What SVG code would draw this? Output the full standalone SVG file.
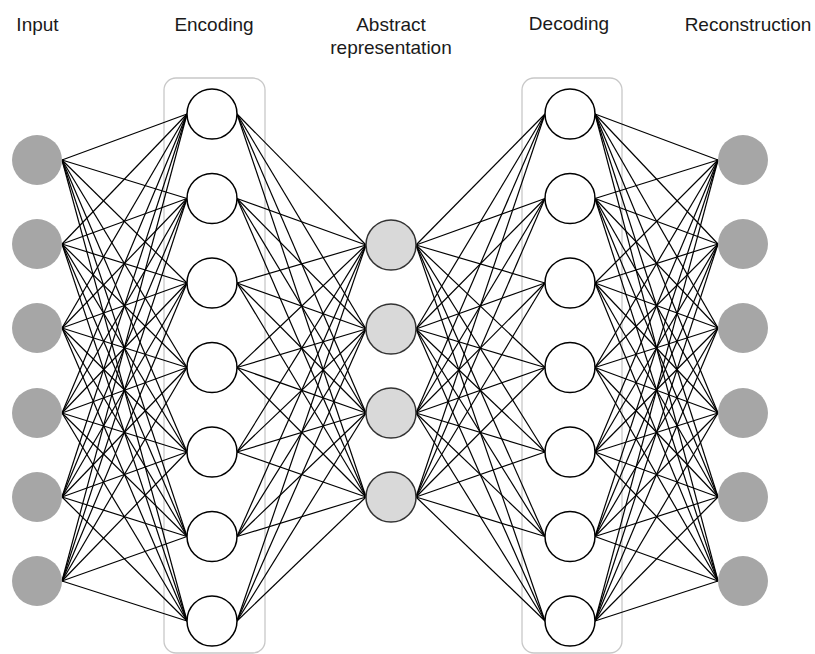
<svg xmlns="http://www.w3.org/2000/svg" width="815" height="654" viewBox="0 0 815 654">
<style>
.lbl{font-family:"Liberation Sans",Arial,sans-serif;font-size:19px;fill:#1a1a1a;text-anchor:middle}
.box{fill:none;stroke:#c8c8c8;stroke-width:1.3}
.e{stroke:#000;stroke-width:1.2}
.in{fill:#a6a6a6;stroke:none}
.hid{fill:#fff;stroke:#000;stroke-width:1.5}
.ab{fill:#d9d9d9;stroke:#333;stroke-width:1.5}
</style>
<rect width="815" height="654" fill="#fff"/>
<g id="labels">
<text class="lbl" x="37.5" y="31">Input</text>
<text class="lbl" x="214" y="31">Encoding</text>
<text class="lbl" x="391" y="31">Abstract</text>
<text class="lbl" x="391" y="54">representation</text>
<text class="lbl" x="569" y="30">Decoding</text>
<text class="lbl" x="748" y="31">Reconstruction</text>
</g>
<g id="encoding-box"><rect class="box" x="164" y="78" width="101" height="575" rx="12"/></g>
<g id="decoding-box"><rect class="box" x="522" y="78" width="100" height="575" rx="12"/></g>
<g id="connectors">
<line class="e" x1="62" y1="160" x2="187" y2="114"/><line class="e" x1="62" y1="160" x2="187" y2="198.5"/><line class="e" x1="62" y1="160" x2="187" y2="283"/><line class="e" x1="62" y1="160" x2="187" y2="367.5"/><line class="e" x1="62" y1="160" x2="187" y2="452"/><line class="e" x1="62" y1="160" x2="187" y2="536.5"/><line class="e" x1="62" y1="160" x2="187" y2="621"/>
<line class="e" x1="62" y1="244" x2="187" y2="114"/><line class="e" x1="62" y1="244" x2="187" y2="198.5"/><line class="e" x1="62" y1="244" x2="187" y2="283"/><line class="e" x1="62" y1="244" x2="187" y2="367.5"/><line class="e" x1="62" y1="244" x2="187" y2="452"/><line class="e" x1="62" y1="244" x2="187" y2="536.5"/><line class="e" x1="62" y1="244" x2="187" y2="621"/>
<line class="e" x1="62" y1="328" x2="187" y2="114"/><line class="e" x1="62" y1="328" x2="187" y2="198.5"/><line class="e" x1="62" y1="328" x2="187" y2="283"/><line class="e" x1="62" y1="328" x2="187" y2="367.5"/><line class="e" x1="62" y1="328" x2="187" y2="452"/><line class="e" x1="62" y1="328" x2="187" y2="536.5"/><line class="e" x1="62" y1="328" x2="187" y2="621"/>
<line class="e" x1="62" y1="413" x2="187" y2="114"/><line class="e" x1="62" y1="413" x2="187" y2="198.5"/><line class="e" x1="62" y1="413" x2="187" y2="283"/><line class="e" x1="62" y1="413" x2="187" y2="367.5"/><line class="e" x1="62" y1="413" x2="187" y2="452"/><line class="e" x1="62" y1="413" x2="187" y2="536.5"/><line class="e" x1="62" y1="413" x2="187" y2="621"/>
<line class="e" x1="62" y1="497" x2="187" y2="114"/><line class="e" x1="62" y1="497" x2="187" y2="198.5"/><line class="e" x1="62" y1="497" x2="187" y2="283"/><line class="e" x1="62" y1="497" x2="187" y2="367.5"/><line class="e" x1="62" y1="497" x2="187" y2="452"/><line class="e" x1="62" y1="497" x2="187" y2="536.5"/><line class="e" x1="62" y1="497" x2="187" y2="621"/>
<line class="e" x1="62" y1="581" x2="187" y2="114"/><line class="e" x1="62" y1="581" x2="187" y2="198.5"/><line class="e" x1="62" y1="581" x2="187" y2="283"/><line class="e" x1="62" y1="581" x2="187" y2="367.5"/><line class="e" x1="62" y1="581" x2="187" y2="452"/><line class="e" x1="62" y1="581" x2="187" y2="536.5"/><line class="e" x1="62" y1="581" x2="187" y2="621"/>
<line class="e" x1="237" y1="114" x2="366" y2="245"/><line class="e" x1="237" y1="114" x2="366" y2="329"/><line class="e" x1="237" y1="114" x2="366" y2="413"/><line class="e" x1="237" y1="114" x2="366" y2="497"/>
<line class="e" x1="237" y1="198.5" x2="366" y2="245"/><line class="e" x1="237" y1="198.5" x2="366" y2="329"/><line class="e" x1="237" y1="198.5" x2="366" y2="413"/><line class="e" x1="237" y1="198.5" x2="366" y2="497"/>
<line class="e" x1="237" y1="283" x2="366" y2="245"/><line class="e" x1="237" y1="283" x2="366" y2="329"/><line class="e" x1="237" y1="283" x2="366" y2="413"/><line class="e" x1="237" y1="283" x2="366" y2="497"/>
<line class="e" x1="237" y1="367.5" x2="366" y2="245"/><line class="e" x1="237" y1="367.5" x2="366" y2="329"/><line class="e" x1="237" y1="367.5" x2="366" y2="413"/><line class="e" x1="237" y1="367.5" x2="366" y2="497"/>
<line class="e" x1="237" y1="452" x2="366" y2="245"/><line class="e" x1="237" y1="452" x2="366" y2="329"/><line class="e" x1="237" y1="452" x2="366" y2="413"/><line class="e" x1="237" y1="452" x2="366" y2="497"/>
<line class="e" x1="237" y1="536.5" x2="366" y2="245"/><line class="e" x1="237" y1="536.5" x2="366" y2="329"/><line class="e" x1="237" y1="536.5" x2="366" y2="413"/><line class="e" x1="237" y1="536.5" x2="366" y2="497"/>
<line class="e" x1="237" y1="621" x2="366" y2="245"/><line class="e" x1="237" y1="621" x2="366" y2="329"/><line class="e" x1="237" y1="621" x2="366" y2="413"/><line class="e" x1="237" y1="621" x2="366" y2="497"/>
<line class="e" x1="416" y1="245" x2="545" y2="114"/><line class="e" x1="416" y1="245" x2="545" y2="198.5"/><line class="e" x1="416" y1="245" x2="545" y2="283"/><line class="e" x1="416" y1="245" x2="545" y2="367.5"/><line class="e" x1="416" y1="245" x2="545" y2="452"/><line class="e" x1="416" y1="245" x2="545" y2="536.5"/><line class="e" x1="416" y1="245" x2="545" y2="621"/>
<line class="e" x1="416" y1="329" x2="545" y2="114"/><line class="e" x1="416" y1="329" x2="545" y2="198.5"/><line class="e" x1="416" y1="329" x2="545" y2="283"/><line class="e" x1="416" y1="329" x2="545" y2="367.5"/><line class="e" x1="416" y1="329" x2="545" y2="452"/><line class="e" x1="416" y1="329" x2="545" y2="536.5"/><line class="e" x1="416" y1="329" x2="545" y2="621"/>
<line class="e" x1="416" y1="413" x2="545" y2="114"/><line class="e" x1="416" y1="413" x2="545" y2="198.5"/><line class="e" x1="416" y1="413" x2="545" y2="283"/><line class="e" x1="416" y1="413" x2="545" y2="367.5"/><line class="e" x1="416" y1="413" x2="545" y2="452"/><line class="e" x1="416" y1="413" x2="545" y2="536.5"/><line class="e" x1="416" y1="413" x2="545" y2="621"/>
<line class="e" x1="416" y1="497" x2="545" y2="114"/><line class="e" x1="416" y1="497" x2="545" y2="198.5"/><line class="e" x1="416" y1="497" x2="545" y2="283"/><line class="e" x1="416" y1="497" x2="545" y2="367.5"/><line class="e" x1="416" y1="497" x2="545" y2="452"/><line class="e" x1="416" y1="497" x2="545" y2="536.5"/><line class="e" x1="416" y1="497" x2="545" y2="621"/>
<line class="e" x1="595" y1="114" x2="718" y2="160"/><line class="e" x1="595" y1="114" x2="718" y2="244"/><line class="e" x1="595" y1="114" x2="718" y2="328"/><line class="e" x1="595" y1="114" x2="718" y2="413"/><line class="e" x1="595" y1="114" x2="718" y2="497"/><line class="e" x1="595" y1="114" x2="718" y2="581"/>
<line class="e" x1="595" y1="198.5" x2="718" y2="160"/><line class="e" x1="595" y1="198.5" x2="718" y2="244"/><line class="e" x1="595" y1="198.5" x2="718" y2="328"/><line class="e" x1="595" y1="198.5" x2="718" y2="413"/><line class="e" x1="595" y1="198.5" x2="718" y2="497"/><line class="e" x1="595" y1="198.5" x2="718" y2="581"/>
<line class="e" x1="595" y1="283" x2="718" y2="160"/><line class="e" x1="595" y1="283" x2="718" y2="244"/><line class="e" x1="595" y1="283" x2="718" y2="328"/><line class="e" x1="595" y1="283" x2="718" y2="413"/><line class="e" x1="595" y1="283" x2="718" y2="497"/><line class="e" x1="595" y1="283" x2="718" y2="581"/>
<line class="e" x1="595" y1="367.5" x2="718" y2="160"/><line class="e" x1="595" y1="367.5" x2="718" y2="244"/><line class="e" x1="595" y1="367.5" x2="718" y2="328"/><line class="e" x1="595" y1="367.5" x2="718" y2="413"/><line class="e" x1="595" y1="367.5" x2="718" y2="497"/><line class="e" x1="595" y1="367.5" x2="718" y2="581"/>
<line class="e" x1="595" y1="452" x2="718" y2="160"/><line class="e" x1="595" y1="452" x2="718" y2="244"/><line class="e" x1="595" y1="452" x2="718" y2="328"/><line class="e" x1="595" y1="452" x2="718" y2="413"/><line class="e" x1="595" y1="452" x2="718" y2="497"/><line class="e" x1="595" y1="452" x2="718" y2="581"/>
<line class="e" x1="595" y1="536.5" x2="718" y2="160"/><line class="e" x1="595" y1="536.5" x2="718" y2="244"/><line class="e" x1="595" y1="536.5" x2="718" y2="328"/><line class="e" x1="595" y1="536.5" x2="718" y2="413"/><line class="e" x1="595" y1="536.5" x2="718" y2="497"/><line class="e" x1="595" y1="536.5" x2="718" y2="581"/>
<line class="e" x1="595" y1="621" x2="718" y2="160"/><line class="e" x1="595" y1="621" x2="718" y2="244"/><line class="e" x1="595" y1="621" x2="718" y2="328"/><line class="e" x1="595" y1="621" x2="718" y2="413"/><line class="e" x1="595" y1="621" x2="718" y2="497"/><line class="e" x1="595" y1="621" x2="718" y2="581"/>
</g>
<g id="input-1"><circle class="in" cx="37" cy="160" r="25"/></g>
<g id="input-2"><circle class="in" cx="37" cy="244" r="25"/></g>
<g id="input-3"><circle class="in" cx="37" cy="328" r="25"/></g>
<g id="input-4"><circle class="in" cx="37" cy="413" r="25"/></g>
<g id="input-5"><circle class="in" cx="37" cy="497" r="25"/></g>
<g id="input-6"><circle class="in" cx="37" cy="581" r="25"/></g>
<g id="enc-1"><circle class="hid" cx="212" cy="114" r="25"/></g>
<g id="enc-2"><circle class="hid" cx="212" cy="198.5" r="25"/></g>
<g id="enc-3"><circle class="hid" cx="212" cy="283" r="25"/></g>
<g id="enc-4"><circle class="hid" cx="212" cy="367.5" r="25"/></g>
<g id="enc-5"><circle class="hid" cx="212" cy="452" r="25"/></g>
<g id="enc-6"><circle class="hid" cx="212" cy="536.5" r="25"/></g>
<g id="enc-7"><circle class="hid" cx="212" cy="621" r="25"/></g>
<g id="abs-1"><circle class="ab" cx="391" cy="245" r="25"/></g>
<g id="abs-2"><circle class="ab" cx="391" cy="329" r="25"/></g>
<g id="abs-3"><circle class="ab" cx="391" cy="413" r="25"/></g>
<g id="abs-4"><circle class="ab" cx="391" cy="497" r="25"/></g>
<g id="dec-1"><circle class="hid" cx="570" cy="114" r="25"/></g>
<g id="dec-2"><circle class="hid" cx="570" cy="198.5" r="25"/></g>
<g id="dec-3"><circle class="hid" cx="570" cy="283" r="25"/></g>
<g id="dec-4"><circle class="hid" cx="570" cy="367.5" r="25"/></g>
<g id="dec-5"><circle class="hid" cx="570" cy="452" r="25"/></g>
<g id="dec-6"><circle class="hid" cx="570" cy="536.5" r="25"/></g>
<g id="dec-7"><circle class="hid" cx="570" cy="621" r="25"/></g>
<g id="rec-1"><circle class="in" cx="743" cy="160" r="25"/></g>
<g id="rec-2"><circle class="in" cx="743" cy="244" r="25"/></g>
<g id="rec-3"><circle class="in" cx="743" cy="328" r="25"/></g>
<g id="rec-4"><circle class="in" cx="743" cy="413" r="25"/></g>
<g id="rec-5"><circle class="in" cx="743" cy="497" r="25"/></g>
<g id="rec-6"><circle class="in" cx="743" cy="581" r="25"/></g>
</svg>
